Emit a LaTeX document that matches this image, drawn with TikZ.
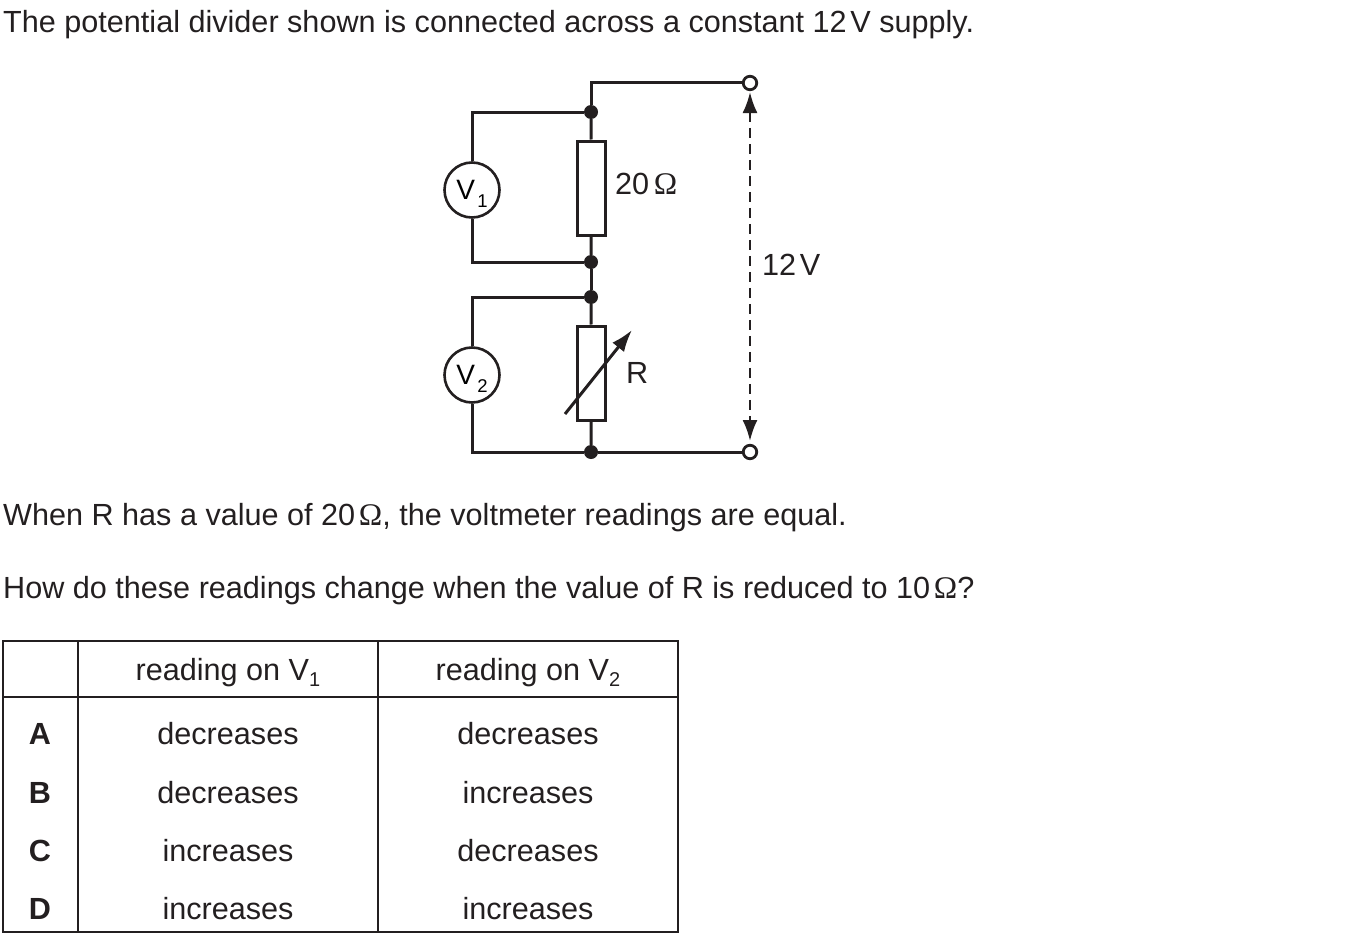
\documentclass[tikz,border=0pt]{standalone}
\usepackage{fontspec}
\setmainfont{Liberation Sans}
\newfontfamily\symfont{Liberation Serif}
\usetikzlibrary{arrows.meta}
\newcommand{\Ohm}{{\symfont\fontsize{31.5}{34}\selectfont Ω}}
\newcommand{\thin}{\kern 0.12em}
\newcommand{\subn}[1]{\raisebox{-0.22em}{\fontsize{20}{20}\selectfont #1}}
\newcommand{\msub}[1]{\kern 2.5pt\smash{\raisebox{-8pt}{\fontsize{18.5}{19}\selectfont #1}}}
\tikzset{
  wire/.style={draw=ink,line width=3pt},
  junction/.style={circle,fill=ink,draw=none,minimum size=14pt,inner sep=0pt},
  terminal/.style={circle,fill=white,draw=ink,line width=2.8pt,minimum size=13.5pt,inner sep=0pt},
  resistor/.style={rectangle,fill=white,draw=ink,line width=3pt,minimum width=28pt,minimum height=94pt,inner sep=0pt},
  meter/.style={circle,fill=white,draw=ink,line width=2.6pt,minimum size=55pt,inner sep=0pt,font=\fontsize{28}{34}\selectfont},
  txt/.style={anchor=base west,inner sep=0pt,text=ink,font=\fontsize{30.6}{34}\selectfont},
  cell/.style={anchor=base,inner sep=0pt,text=ink,font=\fontsize{30.6}{34}\selectfont},
  optlabel/.style={cell,font=\fontsize{30.6}{34}\selectfont\bfseries},
  rule/.style={draw=ink,line width=2.4pt},
  thinrule/.style={draw=ink,line width=1.6pt},
  measure/.style={draw=ink,line width=2.4pt,dash pattern=on 10pt off 6pt,
     {Latex[length=21pt,width=15pt]}-{Latex[length=21pt,width=15pt]}},
  varrow/.style={draw=ink,line width=3pt,-{Latex[length=22pt,width=15pt]}}
}
\definecolor{ink}{HTML}{231F20}
\begin{document}
\begin{tikzpicture}[x=1pt,y=-1pt]
\useasboundingbox (0,0) rectangle (1355,942);
\node[txt] (title) at (3,33) {The potential divider shown is connected across a constant 12\thin V supply.};
\node[txt] (when) at (3,525) {When R has a value of 20\thin\Ohm, the voltmeter readings are equal.};
\node[txt] (how) at (3,598) {How do these readings change when the value of R is reduced to 10\thin\Ohm?};
% circuit
\coordinate (topbend) at (591,83);
\coordinate (ul) at (472,112);
\coordinate (ml) at (472,262);
\coordinate (mu) at (472,297);
\coordinate (ll) at (472,452);
\coordinate (arrowtop) at (750,92);
\coordinate (arrowbot) at (750,441);
\coordinate (sliderstart) at (565,414);
\coordinate (sliderend) at (632,330);
\node[terminal] (t1) at (750,83) {};
\node[terminal] (t2) at (750,452) {};
\node[junction] (j1) at (591,112) {};
\node[junction] (j2) at (591,262) {};
\node[junction] (j3) at (591,297) {};
\node[junction] (j4) at (591,452) {};
\node[resistor] (r1) at (591.5,188) {};
\node[resistor] (r2) at (591.5,373) {};
\node[meter] (v1) at (472,190) {V\msub{1}};
\node[meter] (v2) at (472,375) {V\msub{2}};
\draw[wire] (t1) -- (topbend) -- (j1);
\draw[wire] (j1) -- (r1);
\draw[wire] (r1) -- (j2);
\draw[wire] (j2) -- (j3);
\draw[wire] (j3) -- (r2);
\draw[wire] (r2) -- (j4);
\draw[wire] (j4) -- (t2);
\draw[wire] (j1) -- (ul) -- (v1);
\draw[wire] (v1) -- (ml) -- (j2);
\draw[wire] (j3) -- (mu) -- (v2);
\draw[wire] (v2) -- (ll) -- (j4);
\draw[varrow] (sliderstart) -- (sliderend);
\draw[measure] (arrowtop) -- (arrowbot);
\node[txt] (l20) at (615,194) {20\kern 0.15em\Ohm};
\node[txt] (lR) at (626,383) {R};
\node[txt] (l12) at (762,275) {12\thin V};
% table
\draw[rule] (3,641) rectangle (678,932);
\draw[rule] (78,641) -- (78,932);
\draw[rule] (378,641) -- (378,932);
\draw[thinrule] (3,697) -- (678,697);
\node[cell] (h1) at (228,680) {reading on V\subn{1}};
\node[cell] (h2) at (528,680) {reading on V\subn{2}};
\node[optlabel] (a) at (40,744) {A};
\node[optlabel] (b) at (40,803) {B};
\node[optlabel] (c) at (40,861) {C};
\node[optlabel] (d) at (40,919) {D};
\node[cell] (a1) at (228,744) {decreases};
\node[cell] (a2) at (528,744) {decreases};
\node[cell] (b1) at (228,803) {decreases};
\node[cell] (b2) at (528,803) {increases};
\node[cell] (c1) at (228,861) {increases};
\node[cell] (c2) at (528,861) {decreases};
\node[cell] (d1) at (228,919) {increases};
\node[cell] (d2) at (528,919) {increases};
\end{tikzpicture}
\end{document}
